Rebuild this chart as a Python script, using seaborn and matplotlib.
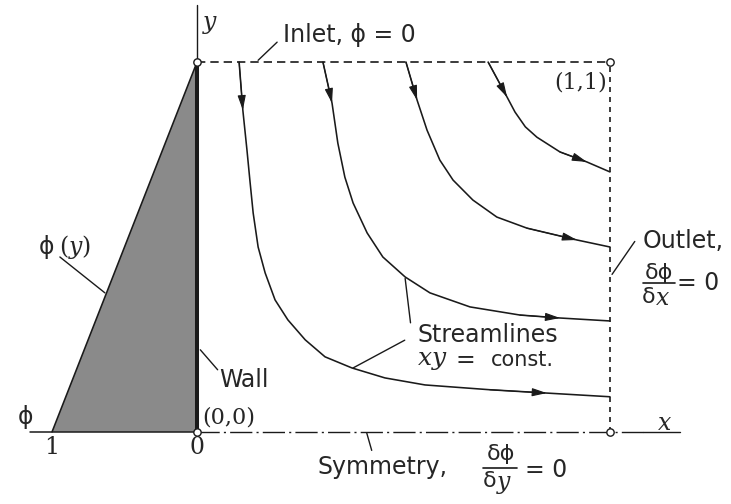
import numpy as np
import pandas as pd
import matplotlib
matplotlib.use("Agg")
import matplotlib.pyplot as plt
import seaborn as sns

sns.set_theme(style="white")
plt.rcParams['font.family'] = ['DejaVu Sans']
plt.rcParams['mathtext.fontset'] = 'custom'
plt.rcParams['mathtext.rm'] = 'DejaVu Serif'
plt.rcParams['mathtext.it'] = 'DejaVu Serif:italic'

# ---- data (domain units, (0,0)-(1,1)) ----
s1_x = [0.102, 0.111, 0.121, 0.128, 0.136, 0.148, 0.165, 0.189, 0.220, 0.262, 0.310,
        0.375, 0.455, 0.552, 0.709, 0.847, 1.0]
s1_y = [1.0, 0.870, 0.762, 0.681, 0.592, 0.500, 0.430, 0.357, 0.303, 0.249, 0.203,
        0.173, 0.146, 0.127, 0.114, 0.105, 0.095]
s2_x = [0.305, 0.327, 0.341, 0.358, 0.378, 0.412, 0.450, 0.504, 0.564, 0.661, 0.782, 0.879, 1.0]
s2_y = [1.0, 0.889, 0.781, 0.689, 0.619, 0.538, 0.473, 0.419, 0.376, 0.338, 0.316, 0.308, 0.300]
s3_x = [0.506, 0.533, 0.557, 0.588, 0.620, 0.668, 0.726, 0.799, 0.920, 1.0]
s3_y = [1.0, 0.897, 0.816, 0.735, 0.681, 0.627, 0.581, 0.551, 0.519, 0.5]
s4_x = [0.705, 0.751, 0.770, 0.795, 0.823, 0.879, 0.944, 1.0]
s4_y = [1.0, 0.905, 0.865, 0.825, 0.797, 0.757, 0.730, 0.703]
streamlines = [(s1_x, s1_y), (s2_x, s2_y), (s3_x, s3_y), (s4_x, s4_y)]
# indices of arrow tips (near inlet, near outlet)
arrow_idx = [(1, 15), (1, 11), (1, 8), (1, 6)]

phi_vals = [1.0, 0.0]          # phi at y = 0 and y = 1
phi_y = [0.0, 1.0]
phi_scale = 0.351               # horizontal length drawn for phi = 1

tick_labels = ["1", "0"]

rows = []
for k, (xs, ys) in enumerate(streamlines):
    for i, (xv, yv) in enumerate(zip(xs, ys)):
        rows.append(dict(line=k, order=i, x=xv, y=yv))
df = pd.DataFrame(rows)

fig = plt.figure(figsize=(7.31, 5.04), dpi=100)
ax = fig.add_axes([0, 0, 1, 1])
ax.set_xlim(-0.477, 1.293)
ax.set_ylim(-0.195, 1.168)
ax.axis('off')

lw = 1.15
# phi(y) triangle
px = [-phi_scale * v for v in phi_vals]
ax.fill([px[0], px[1], 0.0], [phi_y[0], phi_y[1], 0.0], color='#8a8a8a', lw=0, zorder=1)
ax.plot(px, phi_y, color='k', lw=lw, zorder=2)

# streamlines
sns.lineplot(data=df, x='x', y='y', units='line', estimator=None, sort=False,
             color='k', lw=lw, ax=ax, legend=False, zorder=3,
             solid_joinstyle='round', solid_capstyle='round')
for (xs, ys), (a, b) in zip(streamlines, arrow_idx):
    for i in (a, b):
        ax.annotate('', xy=(xs[i], ys[i]), xytext=(xs[i - 1], ys[i - 1]),
                    arrowprops=dict(arrowstyle='-|>,head_length=0.9,head_width=0.25',
                                    color='k', lw=0.8, shrinkA=0, shrinkB=0,
                                    mutation_scale=10), zorder=4)

# boundaries
ax.plot([0, 1], [1, 1], color='k', lw=1.2, ls=(0, (5, 3)), zorder=2)
ax.plot([1, 1], [0, 1], color='k', lw=1.2, ls=(0, (3, 3)), zorder=2)
ax.plot([0, 1.08], [0, 0], color='k', lw=1.0, ls=(0, (16, 3, 1.5, 3)), zorder=2)
ax.plot([1.08, 1.17], [0, 0], color='k', lw=1.0, zorder=2)
ax.plot([-0.404, 0], [0, 0], color='k', lw=1.1, zorder=2)
ax.plot([0, 0], [0, 1], color='k', lw=2.9, zorder=3)
ax.plot([0, 0], [1, 1.155], color='k', lw=1.0, zorder=3)
ax.scatter([0, 1, 0, 1], [0, 0, 1, 1], s=28, facecolor='white', edgecolor='k',
           linewidth=1.0, zorder=5)

fs = 17
serif = ['DejaVu Serif']
# axis names
ax.text(0.015, 1.108, 'y', family=serif, style='italic', fontsize=17, va='center', ha='left')
ax.text(1.133, 0.022, 'x', family=serif, style='italic', fontsize=17, va='center', ha='center')
# inlet
ax.text(0.208, 1.073, 'Inlet, ϕ = 0', fontsize=fs, va='center', ha='left')
ax.plot([0.148, 0.194], [1.005, 1.054], color='k', lw=1.0)
ax.text(0.993, 0.946, '(1,1)', family=serif, fontsize=16, va='center', ha='right')
# outlet
ax.text(1.08, 0.516, 'Outlet,', fontsize=fs, va='center', ha='left')
ax.text(1.118, 0.43, 'δϕ', fontsize=16, va='center', ha='center')
ax.plot([1.08, 1.157], [0.402, 0.402], color='k', lw=1.2)
ax.text(1.111, 0.365, 'δ', fontsize=16, va='center', ha='right')
ax.text(1.111, 0.362, 'x', family=serif, style='italic', fontsize=17, va='center', ha='left')
ax.text(1.163, 0.403, '= 0', fontsize=fs, va='center', ha='left')
ax.plot([1.005, 1.06], [0.426, 0.515], color='k', lw=1.0)
# streamlines label
ax.text(0.533, 0.262, 'Streamlines', fontsize=fs, va='center', ha='left')
ax.text(0.533, 0.195, r'$xy$', fontsize=18, va='center', ha='left')
ax.text(0.626, 0.195, '=', fontsize=fs, va='center', ha='left')
ax.text(0.712, 0.195, 'const.', fontsize=15, va='center', ha='left')
ax.plot([0.517, 0.504], [0.295, 0.415], color='k', lw=1.0)
ax.plot([0.503, 0.378], [0.248, 0.173], color='k', lw=1.0)
# wall
ax.text(0.055, 0.141, 'Wall', fontsize=fs, va='center', ha='left')
ax.plot([0.008, 0.05], [0.222, 0.168], color='k', lw=1.0)
ax.text(0.012, 0.038, '(0,0)', family=serif, fontsize=16, va='center', ha='left')
# phi axis
ax.text(-0.416, 0.04, 'ϕ', fontsize=fs, va='center', ha='center')
ax.text(-phi_scale * phi_vals[0], -0.043, tick_labels[0], family=serif, fontsize=17,
        va='center', ha='center')
ax.text(-phi_scale * phi_vals[1], -0.043, tick_labels[1], family=serif, fontsize=17,
        va='center', ha='center')
ax.text(-0.382, 0.5, 'ϕ', fontsize=fs, va='center', ha='left')
ax.text(-0.335, 0.5, r'$(y)$', fontsize=17, va='center', ha='left')
ax.plot([-0.332, -0.223], [0.473, 0.376], color='k', lw=1.0)
# symmetry
ax.text(0.292, -0.095, 'Symmetry,', fontsize=fs, va='center', ha='left')
ax.text(0.736, -0.059, 'δϕ', fontsize=16, va='center', ha='center')
ax.plot([0.693, 0.775], [-0.097, -0.097], color='k', lw=1.2)
ax.text(0.726, -0.132, 'δ', fontsize=16, va='center', ha='right')
ax.text(0.726, -0.136, 'y', family=serif, style='italic', fontsize=17, va='center', ha='left')
ax.text(0.793, -0.103, '= 0', fontsize=fs, va='center', ha='left')
ax.plot([0.411, 0.423], [-0.003, -0.05], color='k', lw=1.0)

fig.savefig('out.png', dpi=100)
